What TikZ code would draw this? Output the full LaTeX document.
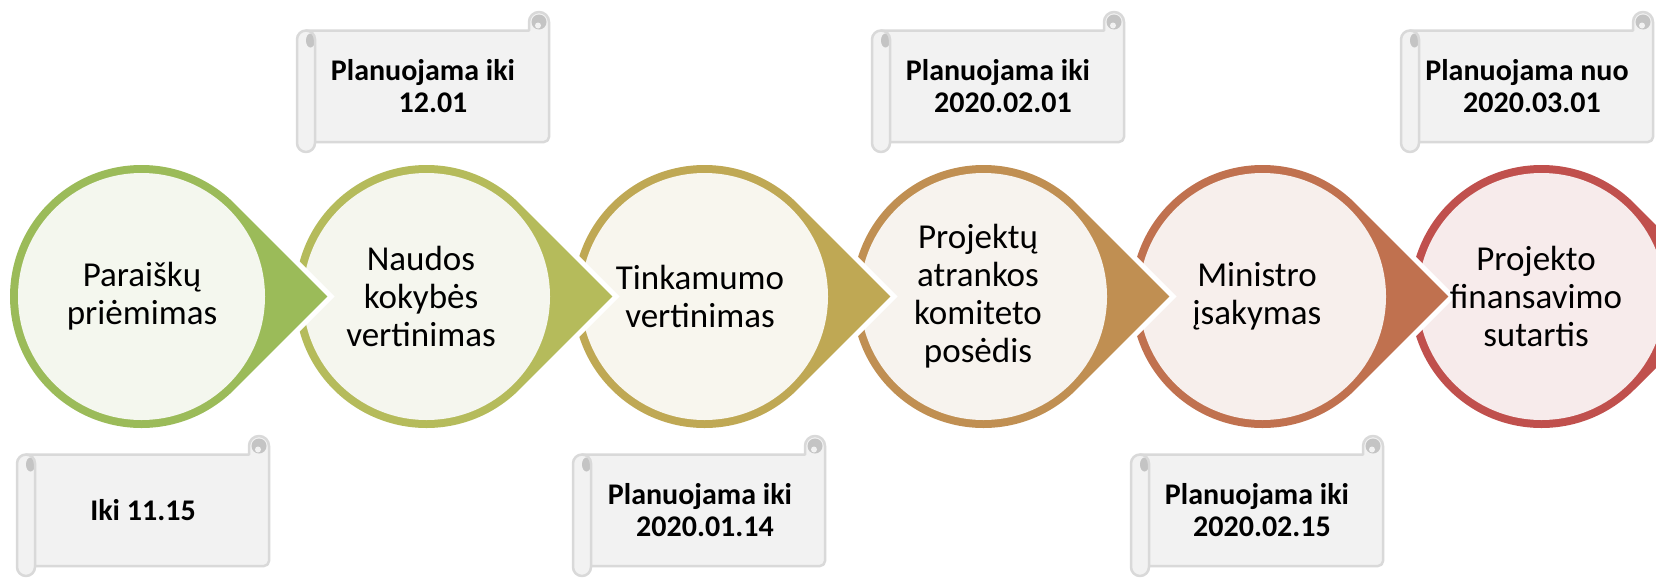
\documentclass[tikz,border=0pt]{standalone}
\usepackage{fontspec}
\setmainfont{Carlito}
\definecolor{bA}{HTML}{9BBB59}\definecolor{fA}{HTML}{F4F7EE}
\definecolor{bB}{HTML}{B5BB5B}\definecolor{fB}{HTML}{F5F6EE}
\definecolor{bC}{HTML}{BFA854}\definecolor{fC}{HTML}{F8F6EE}
\definecolor{bD}{HTML}{C08F52}\definecolor{fD}{HTML}{F7F3EE}
\definecolor{bE}{HTML}{C0714F}\definecolor{fE}{HTML}{F7EFEC}
\definecolor{bF}{HTML}{C0504D}\definecolor{fF}{HTML}{F7EBEB}
\definecolor{scrollfill}{HTML}{F2F2F2}
\definecolor{scrollline}{HTML}{D9D9D9}
\definecolor{scrollcurl}{HTML}{C4C4C4}
\tikzset{
  ctext/.style={align=center, font=\fontsize{35}{38}\selectfont, inner sep=0pt, text=black},
  stext/.style={align=center, font=\bfseries\fontsize{30}{32.5}\selectfont, inner sep=0pt, text=black},
  scrollbody/.style={fill=scrollfill, draw=scrollline, line width=2.5pt, line join=round},
  scrollrule/.style={draw=scrollline, line width=2.5pt, line cap=round},
  dropgap/.style={draw=white, line width=10pt, line join=miter},
}
\newcommand{\tdrop}[3]{%
  \path[dropgap] (#1,296.5) ++(45:131.5) arc[start angle=45, end angle=315, radius=131.5] -- (#1+185.97,296.5) -- cycle;
  \fill[#2] (#1,296.5) ++(45:131.5) arc[start angle=45, end angle=315, radius=131.5] -- (#1+185.97,296.5) -- cycle;
  \fill[#3] (#1,296.5) circle[radius=123.5];
}
\newcommand{\scrollshape}[2]{%
  \pgfmathsetmacro\scL{#1}%
  \pgfmathsetmacro\scR{#1+252}%
  \pgfmathsetmacro\scT{#2}%
  \pgfmathsetmacro\scBT{#2+18.5}%
  \pgfmathsetmacro\scBB{#2+130}%
  \pgfmathsetmacro\scSB{#2+140}%
  \path[scrollbody] (\scL,\scBT+9) -- (\scL,\scSB-9) arc[start angle=180,end angle=0,radius=9]
    -- (\scL+18,\scBB) -- (\scR-5,\scBB) arc[start angle=90,end angle=0,radius=5]
    -- (\scR,\scT+10) arc[start angle=0,end angle=-180,radius=10]
    -- (\scR-20,\scBT) -- (\scL+9,\scBT) arc[start angle=-90,end angle=-180,radius=9] -- cycle;
  \fill[scrollcurl] (\scL+13.5,\scBT+10) ellipse[x radius=4.5, y radius=7];
  \fill[scrollcurl] (\scR-10,\scT+10) circle[radius=7.5];
  \fill[scrollfill] (\scR-11,\scT+13.5) circle[radius=3];
  \path[scrollrule] (\scL+18,\scBB) -- (\scL+18,\scBT+9) arc[start angle=0,end angle=-90,radius=9];
}
\begin{document}
\begin{tikzpicture}[x=1pt,y=-1pt]
\clip (0,0) rectangle (1656,581);
\fill[white] (0,0) rectangle (1656,581);
% scrolls
\scrollshape{297}{12}
\scrollshape{872}{12}
\scrollshape{1401}{12}
\scrollshape{17}{436}
\scrollshape{573}{436}
\scrollshape{1131}{436}
% circles, last first
\tdrop{1541.5}{bF}{fF}
\tdrop{1262.5}{bE}{fE}
\tdrop{983.5}{bD}{fD}
\tdrop{704.5}{bC}{fC}
\tdrop{426.5}{bB}{fB}
\tdrop{141.5}{bA}{fA}
% circle texts
\node[ctext] (c1) at (142,296) {Paraiškų\\priėmimas};
\node[ctext] (c2) at (421,296) {Naudos\\kokybės\\vertinimas};
\node[ctext] (c3) at (700,296) {Tinkamumo\\vertinimas};
\node[ctext] (c4) at (978,296) {Projektų\\atrankos\\komiteto\\posėdis};
\node[ctext] (c5) at (1257,296) {Ministro\\įsakymas};
\node[ctext] (c6) at (1536,296) {Projekto\\finansavimo\\sutartis};
% scroll texts
\node[stext] (s1) at (143,510) {Iki 11.15};
\node[stext] (s2) at (423,86) {Planuojama iki\\\hspace*{20pt}12.01};
\node[stext] (s3) at (700,510) {Planuojama iki\\\hspace*{10pt}2020.01.14};
\node[stext] (s4) at (998,86) {Planuojama iki\\\hspace*{10pt}2020.02.01};
\node[stext] (s5) at (1257,510) {Planuojama iki\\\hspace*{10pt}2020.02.15};
\node[stext] (s6) at (1527,86) {Planuojama nuo\\\hspace*{10pt}2020.03.01};
\end{tikzpicture}
\end{document}
